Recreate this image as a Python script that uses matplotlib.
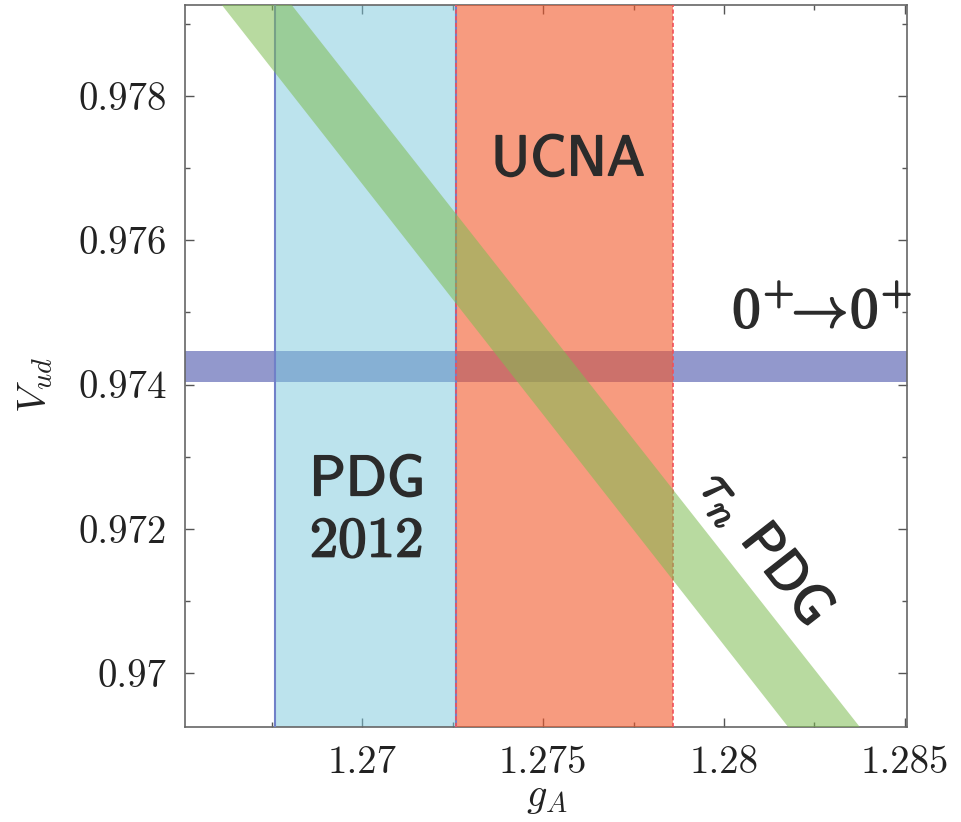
import numpy as np
import matplotlib
matplotlib.use("Agg")
import matplotlib.pyplot as plt
import matplotlib.patheffects as pe
from matplotlib.patches import Polygon
from matplotlib.ticker import MultipleLocator

plt.rcParams['mathtext.fontset'] = 'cm'
plt.rcParams['font.family'] = 'cmr10'
plt.rcParams['axes.formatter.use_mathtext'] = True

# bands
pdg_gA, pdg_err = 1.2701, 0.0025      # PDG 2012
ucna_gA, ucna_err = 1.2756, 0.0030    # UCNA
ft_vud, ft_err = 0.97425, 0.00022     # 0+ -> 0+
# tau_n PDG band: edges at the top and bottom of the frame
tau_vud = [0.97926, 0.96925]
tau_gA_lo = [1.26612, 1.28178]
tau_gA_hi = [1.26805, 1.28376]

xticks = [1.27, 1.275, 1.28, 1.285]
xticklabels = ['1.27', '1.275', '1.28', '1.285']
yticks = [0.970, 0.972, 0.974, 0.976, 0.978]
yticklabels = ['0.97', '0.972', '0.974', '0.976', '0.978']

xlim = (1.2651, 1.28505)
ylim = (0.96925, 0.97926)

fig = plt.figure(figsize=(9.61, 8.22), dpi=100)
ax = fig.add_axes([0.1925, 0.1152, 0.751, 0.8787])

c = lambda r, g, b: (r / 255, g / 255, b / 255)

ax.axhspan(ft_vud - ft_err, ft_vud + ft_err, color=c(146, 152, 204), lw=0, zorder=1)
ax.axvspan(pdg_gA - pdg_err, pdg_gA + pdg_err, color=c(123, 201, 221), alpha=0.5, lw=0, zorder=2)
ax.axvspan(ucna_gA - ucna_err, ucna_gA + ucna_err, color=c(243, 88, 42), alpha=0.6, lw=0, zorder=3)

for xv in (pdg_gA - pdg_err, pdg_gA + pdg_err):
    ax.axvline(xv, color='#7080C8', lw=1.5, zorder=4)
for xv in (ucna_gA - ucna_err, ucna_gA + ucna_err):
    ax.axvline(xv, color='#F0505A', lw=1.2, ls=(0, (2.5, 1.5)), zorder=4.5)

# extend the tau band edges a little past the frame
tv = np.array(tau_vud)
lo = np.array(tau_gA_lo)
hi = np.array(tau_gA_hi)
ext = 0.05
def stretch(a):
    d = a[1] - a[0]
    return np.array([a[0] - ext * d, a[1] + ext * d])
tv2, lo2, hi2 = stretch(tv), stretch(lo), stretch(hi)
poly = Polygon([(lo2[0], tv2[0]), (hi2[0], tv2[0]), (hi2[1], tv2[1]), (lo2[1], tv2[1])],
               closed=True, facecolor=c(126, 188, 82), alpha=0.55, lw=0, zorder=5)
ax.add_patch(poly)

ax.set_xlim(*xlim)
ax.set_ylim(*ylim)
ax.set_xticks(xticks, xticklabels)
ax.set_yticks(yticks, yticklabels)
ax.xaxis.set_minor_locator(MultipleLocator(0.0025))
ax.yaxis.set_minor_locator(MultipleLocator(0.001))

for s in ax.spines.values():
    s.set_color('#666666')
    s.set_linewidth(1.2)
ax.tick_params(which='both', direction='in', top=True, right=True, color='#555555', width=1)
ax.tick_params(which='major', length=6.5, labelsize=28, pad=13, labelcolor='#222222')
ax.tick_params(which='minor', length=3.6)

ax.set_xlabel(r'$g_A$', fontsize=29, color='#222222')
ax.set_ylabel(r'$V_{ud}$', fontsize=29, color='#222222')
ax.xaxis.label.set_va('center')
ax.yaxis.label.set_va('center')
ax.xaxis.set_label_coords(0.5016, -0.098)
ax.yaxis.set_label_coords(-0.2065, 0.474)

tc = '#2b2b2b'
fx = [pe.withStroke(linewidth=1.2, foreground=tc)]
ax.text(1.27569, 0.97710, r'$\mathsf{UCNA}$', fontsize=41, color=tc, ha='center', va='center',
        path_effects=fx, zorder=7)
ax.text(1.27011, 0.97224, r'$\mathsf{PDG}$' + '\n' + r'$\mathsf{2012}$', fontsize=41, color=tc,
        ha='center', va='center', multialignment='center', linespacing=1.25,
        path_effects=fx, zorder=7)
ax.text(1.28271, 0.97500, r'$\mathsf{0^{+}\!\!\rightarrow\!0^{+}}$', fontsize=41, color=tc,
        ha='center', va='center', path_effects=fx, zorder=7)
ax.text(1.28113, 0.97174, r'$\tau_n\ \mathsf{PDG}$', fontsize=40, color=tc, ha='center',
        va='center', rotation=-52, rotation_mode='anchor', path_effects=fx, zorder=7)

fig.savefig('out.png', dpi=100)
